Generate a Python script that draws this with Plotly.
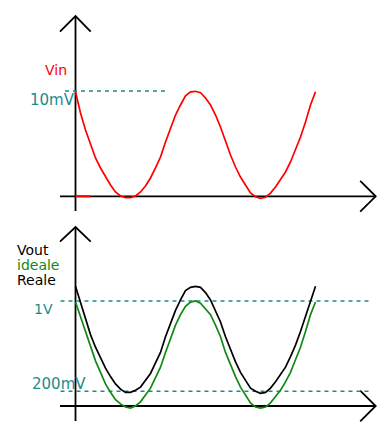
import plotly.graph_objects as go

# ---- data ----
# time samples (arbitrary units, one sample per step)
time = list(range(49))

vin_mV = [9.93, 7.91, 6.30, 4.87, 3.64, 2.69, 1.83, 1.07, 0.41, 0.03,
          -0.13, -0.13, 0.03, 0.41, 0.98, 1.74, 2.69, 3.73, 5.16, 6.49,
          7.72, 8.67, 9.53, 9.91, 9.97, 9.84, 9.34, 8.67, 7.72, 6.58,
          5.16, 3.92, 2.78, 1.83, 1.07, 0.31, -0.04, -0.19, -0.09, 0.31,
          0.88, 1.55, 2.31, 3.26, 4.40, 5.63, 7.06, 8.67, 9.93]

vout_reale = [1.14, 0.98, 0.82, 0.68, 0.56, 0.46, 0.36, 0.28, 0.21, 0.16,
              0.13, 0.13, 0.15, 0.18, 0.24, 0.31, 0.41, 0.51, 0.66, 0.79,
              0.91, 1.01, 1.10, 1.13, 1.14, 1.13, 1.08, 1.01, 0.91, 0.80,
              0.66, 0.53, 0.42, 0.32, 0.25, 0.17, 0.14, 0.12, 0.13, 0.17,
              0.23, 0.30, 0.37, 0.47, 0.58, 0.71, 0.85, 1.01, 1.14]

vout_ideale = [0.99, 0.85, 0.70, 0.55, 0.43, 0.32, 0.21, 0.13, 0.06, 0.02,
               -0.01, -0.02, 0.00, 0.04, 0.10, 0.17, 0.27, 0.37, 0.51, 0.65,
               0.77, 0.87, 0.95, 0.99, 1.00, 0.98, 0.93, 0.87, 0.77, 0.66,
               0.51, 0.39, 0.28, 0.18, 0.11, 0.03, -0.01, -0.02, -0.01, 0.03,
               0.09, 0.15, 0.23, 0.32, 0.44, 0.56, 0.71, 0.87, 0.99]

vin_level_mV = 10.0
vin_label = "10mV"
vout_levels_V = [1.0, 0.14]
vout_level_labels = ["1V", "200mV"]
red_stub = [0, 3]  # short red segment on the time axis

# ---- styling ----
RED = "#ff0000"
GREEN = "#108a10"
BLACK = "#000000"
TEAL = "#1a8c8c"
FONT = "DejaVu Sans"

fig = go.Figure()

fig.add_trace(go.Scatter(x=time, y=vin_mV, mode="lines",
                         line=dict(color=RED, width=1.7), xaxis="x", yaxis="y",
                         hoverinfo="skip"))
fig.add_trace(go.Scatter(x=red_stub, y=[0, 0], mode="lines",
                         line=dict(color=RED, width=2), xaxis="x", yaxis="y",
                         hoverinfo="skip"))
fig.add_trace(go.Scatter(x=time, y=vout_reale, mode="lines",
                         line=dict(color=BLACK, width=1.7), xaxis="x2", yaxis="y2",
                         hoverinfo="skip"))
fig.add_trace(go.Scatter(x=time, y=vout_ideale, mode="lines",
                         line=dict(color=GREEN, width=1.7), xaxis="x2", yaxis="y2",
                         hoverinfo="skip"))

shapes = []
axw = 1.8
head_x_y = {"y": 1.46, "y2": 0.146}


def axis_arrows(xr, yr, y_lo, y_hi, head_y, x_lo, x_hi, head_x):
    s = []
    s.append(dict(type="line", xref=xr, yref=yr, x0=0, x1=0, y0=y_lo, y1=y_hi,
                  line=dict(color=BLACK, width=axw), layer="below"))
    s.append(dict(type="path", xref=xr, yref=yr,
                  path=f"M -3.1,{y_hi - head_y} L 0,{y_hi} L 3.04,{y_hi - head_y}",
                  line=dict(color=BLACK, width=axw), layer="below"))
    s.append(dict(type="line", xref=xr, yref=yr, x0=x_lo, x1=x_hi, y0=0, y1=0,
                  line=dict(color=BLACK, width=axw), layer="below"))
    s.append(dict(type="path", xref=xr, yref=yr,
                  path=f"M {x_hi - head_x},{head_x_y[yr]} L {x_hi},0 L {x_hi - head_x},{-head_x_y[yr]}",
                  line=dict(color=BLACK, width=axw), layer="below"))
    return s


shapes += axis_arrows("x", "y", -1.40, 17.12, 1.49, -3.1, 60.04, 3.1)
shapes += axis_arrows("x2", "y2", -0.143, 1.705, 0.14, -3.1, 60.04, 3.1)

dash = "4px,4px"
shapes.append(dict(type="line", xref="x", yref="y", x0=-2.1, x1=18.1,
                   y0=vin_level_mV, y1=vin_level_mV,
                   line=dict(color=TEAL, width=1.4, dash=dash), layer="below"))
for lv in vout_levels_V:
    shapes.append(dict(type="line", xref="x2", yref="y2", x0=-3.0, x1=59.1,
                       y0=lv, y1=lv,
                       line=dict(color=TEAL, width=1.4, dash=dash), layer="below"))

ann = []


def txt(text, x, y, xr, yr, color, size, anchor="left"):
    ann.append(dict(text=text, x=x, y=y, xref=xr, yref=yr, showarrow=False,
                    xanchor=anchor, yanchor="middle",
                    font=dict(family=FONT, size=size, color=color)))


txt("Vin", -3.9, 12.0, "x", "y", RED, 14, "center")
txt(vin_label, 0.2, 9.14, "x", "y", TEAL, 15, "right")
txt("Vout", -12.1, 1.486, "x2", "y2", BLACK, 14)
txt("ideale", -12.1, 1.343, "x2", "y2", GREEN, 14)
txt("Reale", -12.1, 1.20, "x2", "y2", BLACK, 14)
txt(vout_level_labels[0], -8.7, 0.924, "x2", "y2", TEAL, 14)
txt(vout_level_labels[1], -9.1, 0.21, "x2", "y2", TEAL, 15)

# the page body adds an 8px margin, so the figure is 8px smaller each way
hidden = dict(visible=False, showgrid=False, zeroline=False, fixedrange=True)
split = 219 / 430
fig.update_layout(
    width=384, height=430,
    margin=dict(l=0, r=0, t=0, b=0),
    paper_bgcolor="white", plot_bgcolor="white",
    showlegend=False,
    xaxis=dict(hidden, domain=[0, 1], range=[-13.5, 63.3], anchor="y"),
    xaxis2=dict(hidden, domain=[0, 1], range=[-13.5, 63.3], anchor="y2"),
    yaxis=dict(hidden, domain=[split, 1], range=[-2.156, 17.88], anchor="x"),
    yaxis2=dict(hidden, domain=[0, split], range=[-0.3048, 1.781], anchor="x2"),
    shapes=shapes, annotations=ann,
)

fig.write_html("out.html")
